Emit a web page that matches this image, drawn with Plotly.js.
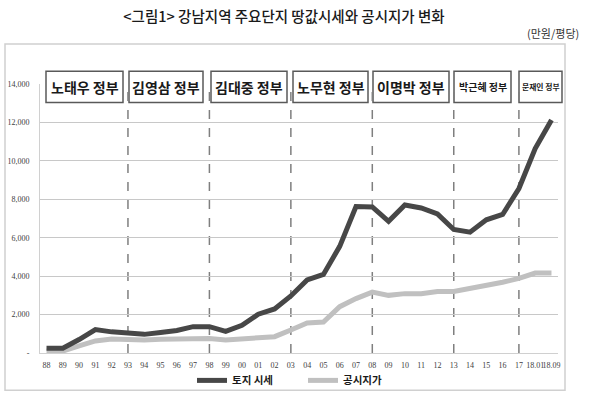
<!DOCTYPE html>
<html>
<head>
<meta charset="utf-8">
<script src="https://cdn.plot.ly/plotly-3.0.1.min.js"></script>
<style>html,body{margin:0;padding:0;background:#fff;}#chart{width:589px;height:407px;}</style>
</head>
<body>
<div id="chart"></div>
<script>
// ---- data ----
const categories = ['88','89','90','91','92','93','94','95','96','97','98','99','00','01','02','03','04','05','06','07','08','09','10','11','12','13','14','15','16','17','18.01','18.09'];
const landPrice = [250,250,700,1220,1100,1030,970,1070,1170,1370,1370,1130,1440,2020,2290,2970,3800,4090,5550,7620,7600,6850,7700,7550,7240,6430,6290,6930,7210,8560,10640,12130];
const officialPrice = [100,100,370,630,730,680,680,710,710,750,750,680,730,780,850,1200,1560,1610,2410,2830,3170,3000,3090,3090,3200,3200,3340,3510,3680,3880,4160,4160];
const seriesNames = ['토지 시세','공시지가'];
const yTickVals = [0,2000,4000,6000,8000,10000,12000,14000];
const yTickText = ['-','2,000','4,000','6,000','8,000','10,000','12,000','14,000'];
const governments = ['노태우 정부','김영삼 정부','김대중 정부','노무현 정부','이명박 정부','박근혜 정부','문재인 정부'];
const boundaries = ['93','98','03','08','13','17'];
const titleText = '<그림1> 강남지역 주요단지 땅값시세와 공시지가 변화';
const unitText = '(만원/평당)';

// ---- layout helpers (pixel geometry) ----
const W = 589, H = 407;
const M = {l:40, r:31, t:84, b:48};
const PW = W - M.l - M.r, PH = H - M.t - M.b;
const px = x => (x - M.l) / PW;
const py = y => (H - M.b - y) / PH;

// government box geometry [x0, x1, fontSize]
const boxGeom = [[46,123,14],[129,203,14],[211,287,14],[293,368,14],[373,449,14],[454,511,10],[519,562,7.8]];
const boxTop = 71, boxBot = 103;

const shapes = [];
boundaries.forEach(b => {
  const i = categories.indexOf(b);
  shapes.push({type:'line', xref:'x', yref:'y', x0:i, x1:i, y0:0, y1:14000, layer:'below',
    line:{color:'#7f7f7f', width:1.5, dash:'dash'}});
});
const annotations = [];
boxGeom.forEach((g, k) => {
  shapes.push({type:'rect', xref:'paper', yref:'paper', x0:px(g[0]), x1:px(g[1]), y0:py(boxBot), y1:py(boxTop),
    layer:'below', fillcolor:'#ffffff', line:{color:'#595959', width:1.5}});
  annotations.push({xref:'paper', yref:'paper', x:px((g[0]+g[1])/2), y:py((boxTop+boxBot)/2),
    xanchor:'center', yanchor:'middle', showarrow:false, text:'<b>'+governments[k]+'</b>',
    font:{family:'Noto Sans CJK KR', size:g[2], color:'#1a1a1a'}});
});
// outer chart frame
shapes.push({type:'rect', xref:'paper', yref:'paper', x0:px(5), x1:px(565), y0:py(397), y1:py(43),
  layer:'below', line:{color:'#d0d0d0', width:1.5}});
annotations.push({xref:'paper', yref:'paper', x:px(581), y:py(31.5), xanchor:'right', yanchor:'middle',
  showarrow:false, text:unitText, font:{family:'Noto Sans CJK KR', size:11, color:'#333'}});

const traces = [
  {type:'scatter', mode:'lines', x:categories, y:officialPrice, name:seriesNames[1], legendrank:2,
   line:{color:'#c0c0c0', width:5}},
  {type:'scatter', mode:'lines', x:categories, y:landPrice, name:seriesNames[0], legendrank:1,
   line:{color:'#474747', width:5}}
];

const layout = {
  width:W, height:H, margin:M, paper_bgcolor:'#fff', plot_bgcolor:'#fff',
  title:{text:titleText, xref:'container', yref:'container', x:284/W, y:1-16.5/H, xanchor:'center', yanchor:'middle',
    font:{family:'Noto Sans CJK KR', size:14.5, color:'#1a1a1a', weight:500}},
  xaxis:{type:'category', range:[-0.4, 31.4], showgrid:false, showline:true, linecolor:'#d0d0d0', linewidth:1,
    ticks:'', tickangle:0, ticklabelstandoff:4, tickfont:{family:'Liberation Serif', size:8, color:'#404040'}, fixedrange:true},
  yaxis:{range:[0,14000], tickvals:yTickVals, ticktext:yTickText, showgrid:true, gridcolor:'#c8c8c8', gridwidth:1,
    showline:true, linecolor:'#d0d0d0', linewidth:1, zeroline:false, ticks:'', ticklabelstandoff:8,
    tickfont:{family:'Liberation Serif', size:8, color:'#404040'}, fixedrange:true},
  showlegend:true,
  legend:{orientation:'h', x:px(192), xanchor:'left', y:py(387), yanchor:'middle', itemwidth:30, entrywidth:66,
    font:{family:'Noto Sans CJK KR', size:10.5, color:'#1a1a1a', weight:'bold'}, bgcolor:'rgba(0,0,0,0)', traceorder:'normal'},
  shapes:shapes, annotations:annotations
};
Plotly.newPlot('chart', traces, layout, {displayModeBar:false, staticPlot:true});
</script>
</body>
</html>
